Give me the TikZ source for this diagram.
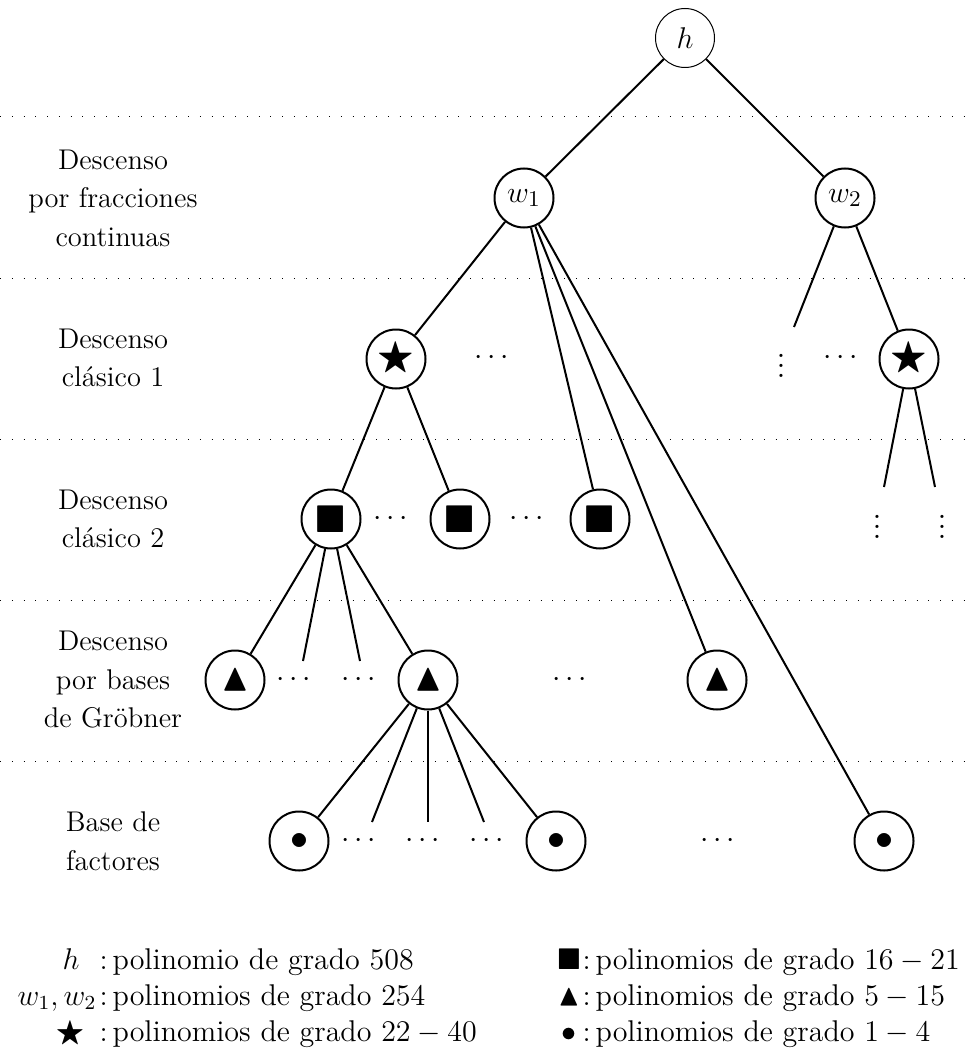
\documentclass[tikz,border=0pt]{standalone}
\usepackage{amsmath,amssymb}
\usepackage{tikz}
\usetikzlibrary{calc}
\tikzset{
  nodo/.style={circle,draw,thick,minimum size=23.6pt,inner sep=0pt,font=\fontsize{12.5}{15}\selectfont},
  simbolo/.style={nodo,font=\fontsize{15.5}{18}\selectfont},
  raiz/.style={nodo,thin},
  puntos/.style={inner sep=0pt,font=\fontsize{13.2}{15}\selectfont},
  nivel/.style={align=center,font=\fontsize{11.4}{15.4}\selectfont},
  leyenda/.style={inner sep=0pt,font=\fontsize{12}{14}\selectfont},
  rama/.style={thick}
}

\begin{document}
\begin{tikzpicture}[x=0.4pt,y=-0.4pt]
    \useasboundingbox (0,0) rectangle (965,1059);
    \foreach \y in {117,278,439,600,761}
        \draw[dash pattern=on 0.4pt off 4.3pt] (0,\y) -- (965,\y);
    %niveles
    \node[nivel] (n1) at (113,198) {Descenso\\por fracciones\\continuas};
    \node[nivel] (n2) at (113,358) {Descenso\\clásico 1};
    \node[nivel] (n3) at (113,519) {Descenso\\clásico 2};
    \node[nivel] (n4) at (113,680) {Descenso\\por bases\\de Gröbner};
    \node[nivel] (n5) at (113,841) {Base de\\factores};

    %arbol
    \node[raiz] (h) at (685,38) {$h$};
    \node[nodo] (w1) at (524,198) {$w_1$};
    \node[nodo] (w2) at (845,198) {$w_2$};
    \node[simbolo] (s1) at (396,359) {$\bigstar$};
    \node[simbolo] (s2) at (909,359) {$\bigstar$};
    \node[simbolo] (q1) at (331,519) {$\blacksquare$};
    \node[simbolo] (q2) at (460,519) {$\blacksquare$};
    \node[simbolo] (q3) at (600,519) {$\blacksquare$};
    \node[simbolo] (t1) at (235,680) {$\blacktriangle$};
    \node[simbolo] (t2) at (428,680) {$\blacktriangle$};
    \node[simbolo] (t3) at (717,680) {$\blacktriangle$};
    \node[simbolo] (c1) at (299,841) {$\bullet$};
    \node[simbolo] (c2) at (556,841) {$\bullet$};
    \node[simbolo] (c3) at (884,841) {$\bullet$};

    \node[puntos] (sd1) at (494,358) {$\cdots$};
    \node[puntos] (sd2) at (843,358) {$\cdots$};
    \node[puntos] (vd1) at (781,358) {$\vdots$};
    \node[puntos] (qd1) at (393,519) {$\cdots$};
    \node[puntos] (qd2) at (529,519) {$\cdots$};
    \node[puntos] (vd2) at (877,519) {$\vdots$};
    \node[puntos] (vd3) at (942,519) {$\vdots$};
    \node[puntos] (td1) at (296,680) {$\cdots$};
    \node[puntos] (td2) at (361,680) {$\cdots$};
    \node[puntos] (td3) at (572,680) {$\cdots$};
    \node[puntos] (cd1) at (361,841) {$\cdots$};
    \node[puntos] (cd2) at (425,841) {$\cdots$};
    \node[puntos] (cd3) at (489,841) {$\cdots$};
    \node[puntos] (cd4) at (720,841) {$\cdots$};

    \coordinate (e1) at (794,327);
    \coordinate (e2) at (884,487);
    \coordinate (e3) at (935,487);
    \coordinate (e4) at (303,661);
    \coordinate (e5) at (360,661);
    \coordinate (e6) at (372,822);
    \coordinate (e7) at (428,822);
    \coordinate (e8) at (484,822);

    \draw[rama] (h) -- (w1);
    \draw[rama] (h) -- (w2);
    \foreach \b in {s1,q3,t3,c3}
        \draw[rama] (w1) -- (\b);
    \foreach \b in {e1,s2}
        \draw[rama] (w2) -- (\b);
    \foreach \b in {e2,e3}
        \draw[rama] (s2) -- (\b);
    \foreach \b in {q1,q2}
        \draw[rama] (s1) -- (\b);
    \foreach \b in {t1,e4,e5,t2}
        \draw[rama] (q1) -- (\b);
    \foreach \b in {c1,e6,e7,e8,c2}
        \draw[rama] (t2) -- (\b);

    %leyenda
    \node[leyenda,anchor=base] (lh) at (71,969) {$h$};
    \node[leyenda,anchor=base east] (lw) at (97,1005) {$w_1,w_2$};
    \node[leyenda,anchor=base] (ls) at (70,1041) {$\bigstar$};
    \node[leyenda,anchor=base west] (xh) at (99,969) {:\,polinomio de grado $508$};
    \node[leyenda,anchor=base west] (xw) at (99,1005) {:\,polinomios de grado $254$};
    \node[leyenda,anchor=base west] (xs) at (99,1041) {:\,polinomios de grado $22-40$};
    \node[leyenda,anchor=base] (lq) at (569,969) {$\blacksquare$};
    \node[leyenda,anchor=base] (lt) at (569,1005) {$\blacktriangle$};
    \node[leyenda,anchor=base] (lc) at (569,1041) {$\bullet$};
    \node[leyenda,anchor=base west] (xq) at (582,969) {:\,polinomios de grado $16-21$};
    \node[leyenda,anchor=base west] (xt) at (582,1005) {:\,polinomios de grado $5-15$};
    \node[leyenda,anchor=base west] (xc) at (582,1041) {:\,polinomios de grado $1-4$};
\end{tikzpicture}
\end{document}
